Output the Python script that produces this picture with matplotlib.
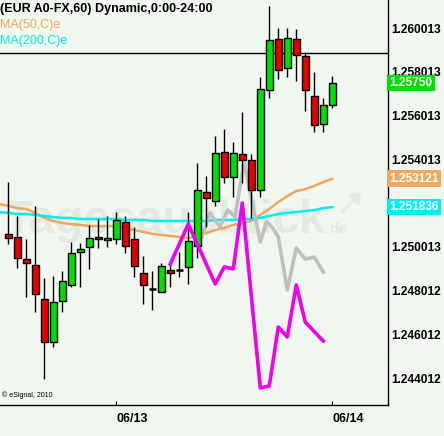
import numpy as np
import matplotlib.pyplot as plt
import matplotlib.transforms as mtransforms

# Stundenkerzen EUR A0-FX (Open, High, Low, Close)
opens = [1.25060, 1.25046, 1.24945, 1.24918, 1.24763, 1.24566, 1.24754, 1.24827,
         1.24977, 1.25000, 1.25046, 1.25032, 1.25037, 1.25115, 1.25037, 1.24881,
         1.24808, 1.24795, 1.24895, 1.24895, 1.24909, 1.25005, 1.25252, 1.25210,
         1.25435, 1.25320, 1.25425, 1.25398, 1.25261, 1.25718, 1.25951, 1.25818,
         1.25951, 1.25873, 1.25690, 1.25562, 1.25649]
highs = [1.25297, 1.25142, 1.25037, 1.25188, 1.24858, 1.24868, 1.24890, 1.25023,
         1.25018, 1.25101, 1.25128, 1.25142, 1.25160, 1.25142, 1.25092, 1.24959,
         1.24890, 1.24927, 1.24941, 1.24977, 1.25160, 1.25384, 1.25325, 1.25508,
         1.25540, 1.25480, 1.25617, 1.25425, 1.25777, 1.26102, 1.26001, 1.26001,
         1.25997, 1.25892, 1.25800, 1.25681, 1.25782]
lows = [1.25014, 1.24904, 1.24772, 1.24703, 1.24397, 1.24543, 1.24703, 1.24817,
        1.24817, 1.24900, 1.24996, 1.25000, 1.25014, 1.24973, 1.24863, 1.24740,
        1.24712, 1.24795, 1.24817, 1.24863, 1.24831, 1.24950, 1.25092, 1.25188,
        1.25293, 1.25229, 1.25293, 1.25133, 1.25229, 1.25681, 1.25768, 1.25777,
        1.25759, 1.25622, 1.25526, 1.25526, 1.25636]
closes = [1.25041, 1.24950, 1.24927, 1.24785, 1.24566, 1.24749, 1.24845, 1.24973,
          1.24991, 1.25041, 1.25037, 1.25041, 1.25124, 1.25005, 1.24913, 1.24827,
          1.24808, 1.24913, 1.24881, 1.24895, 1.25028, 1.25261, 1.25224, 1.25430,
          1.25320, 1.25430, 1.25398, 1.25261, 1.25722, 1.25947, 1.25809, 1.25956,
          1.25878, 1.25718, 1.25558, 1.25649, 1.25750]

# gleitende Durchschnitte, ab Kerze -1
ma50 = [1.25197, 1.25188, 1.25178, 1.25174, 1.25156, 1.25133, 1.25119, 1.25110,
        1.25105, 1.25101, 1.25096, 1.25096, 1.25096, 1.25096, 1.25087, 1.25078,
        1.25069, 1.25060, 1.25055, 1.25051, 1.25046, 1.25041, 1.25051, 1.25064,
        1.25078, 1.25087, 1.25101, 1.25110, 1.25119, 1.25147, 1.25174, 1.25206,
        1.25233, 1.25256, 1.25265, 1.25279, 1.25297, 1.25312]
ma200 = [1.25160, 1.25156, 1.25151, 1.25151, 1.25147, 1.25142, 1.25137, 1.25133,
         1.25133, 1.25128, 1.25128, 1.25128, 1.25128, 1.25128, 1.25124, 1.25124,
         1.25124, 1.25119, 1.25119, 1.25119, 1.25119, 1.25119, 1.25119, 1.25119,
         1.25124, 1.25124, 1.25124, 1.25128, 1.25128, 1.25133, 1.25142, 1.25151,
         1.25156, 1.25160, 1.25165, 1.25169, 1.25178, 1.25183]

# weitere Linien
magenta_x = [18, 20, 23, 24, 25, 26, 28, 29, 30, 31, 32, 33, 35]
magenta_y = [1.24922, 1.25105, 1.24831, 1.24909, 1.24900, 1.25201, 1.24356,
             1.24365, 1.24634, 1.24589, 1.24826, 1.24657, 1.24570]
grey_x = [21.5, 22.4, 23.5, 24.4, 25.2, 26.2, 28, 28.7, 29.3, 30, 31, 32, 33, 34, 35]
grey_y = [1.25046, 1.25156, 1.25092, 1.25169, 1.25137, 1.25389, 1.25023, 1.25115,
          1.25092, 1.25046, 1.24804, 1.24996, 1.24945, 1.24954, 1.24886]

hline = 1.25887
yticks = [1.260013, 1.258013, 1.256013, 1.254013, 1.252013, 1.250013, 1.248012,
          1.246012, 1.244012]
ytick_labels = ['1.260013', '1.258013', '1.256013', '1.254013', '1.252013',
                '1.250013', '1.248012', '1.246012', '1.244012']
xtick_pos = [12, 36]
xtick_labels = ['06/13', '06/14']

bg = '#EFF7EE'
green = '#00E000'
red = '#E80000'
orange = '#F0A860'
cyan = '#00EEEE'

fig = plt.figure(figsize=(4.44, 4.36), dpi=100, facecolor=bg)
ax = fig.add_axes([0, 31 / 436, 388 / 444, 405 / 436])
ax.set_facecolor(bg)
font = 'Liberation Sans'

# Wasserzeichen
ax.text(0.008, 0.425, 'Tagesausblick', transform=ax.transAxes, fontsize=34,
        fontweight='bold', family=font, color='#E1EBDF', zorder=0)
ax.text(0.85, 0.425, 'de', transform=ax.transAxes, fontsize=11,
        fontweight='bold', family=font, color='#E1EBDF', zorder=0)
ax.annotate('', xy=(0.935, 0.53), xytext=(0.875, 0.47), xycoords='axes fraction',
            arrowprops=dict(arrowstyle='simple,head_width=1.2,head_length=0.8',
                            color='#E1EBDF', lw=0), zorder=0)

x = np.arange(len(opens))
o = np.array(opens)
c = np.array(closes)
ax.vlines(x, lows, highs, color='black', lw=1, zorder=3)
up = c > o
dn = c < o
doji = c == o
ax.bar(x[up], (c - o)[up], 0.72, bottom=o[up], color=green,
       edgecolor='black', lw=1, zorder=4)
ax.bar(x[dn], (o - c)[dn], 0.72, bottom=c[dn], color=red,
       edgecolor='black', lw=1, zorder=4)
ax.hlines(o[doji], x[doji] - 0.36, x[doji] + 0.36, color='black', lw=1.8, zorder=4)

xm = np.arange(-1, len(opens))
ax.plot(xm, ma50, color=orange, lw=1.8, zorder=2)
ax.plot(xm, ma200, color=cyan, lw=1.8, zorder=2)
ax.plot(grey_x, grey_y, color='#C0C0C0', lw=2.6, zorder=2)
ax.plot(magenta_x, magenta_y, color='#F000F0', lw=2.6, zorder=5)
ax.axhline(hline, color='black', lw=1, zorder=1)

ax.set_xlim(-0.92, 42.19)
ax.set_ylim(1.242779, 1.261293)
for s in ['left', 'top']:
    ax.spines[s].set_visible(False)
ax.spines['right'].set_linewidth(1)
ax.spines['bottom'].set_linewidth(1)

ax.yaxis.tick_right()
ax.set_yticks(yticks)
ax.set_yticklabels(ytick_labels, fontsize=8.6, fontweight='bold', family=font)
ax.tick_params(axis='y', length=0, pad=2)
ax.set_xticks(xtick_pos)
ax.set_xticklabels(xtick_labels, fontsize=9, fontweight='bold', family=font,
                   ha='left')
ax.tick_params(axis='x', direction='in', length=3, pad=6)

# Preismarken rechts
trans = mtransforms.blended_transform_factory(ax.transAxes, ax.transData)
for val, txt, col in [(closes[-1], '1.25750', green), (ma50[-1], '1.253121', orange),
                      (ma200[-1], '1.251836', cyan)]:
    ax.text(1.004, val, txt, transform=trans, fontsize=8.6, fontweight='bold',
            family=font, color='white', va='center', ha='left', clip_on=False,
            bbox=dict(boxstyle='square,pad=0.2', fc=col, ec='none'), zorder=6)

fig.text(0.0, 0.992, '(EUR A0-FX,60) Dynamic,0:00-24:00', fontsize=9,
         fontweight='bold', family=font, va='top', ha='left')
fig.text(0.0, 0.956, 'MA(50,C)e', fontsize=9, family=font, color=orange,
         va='top', ha='left')
fig.text(0.0, 0.919, 'MA(200,C)e', fontsize=9, family=font, color=cyan,
         va='top', ha='left')
fig.text(0.005, 0.085, '\u00a9 eSignal, 2010', fontsize=5, family=font,
         va='bottom', ha='left')

fig.savefig('out.png', dpi=100, facecolor=bg)
